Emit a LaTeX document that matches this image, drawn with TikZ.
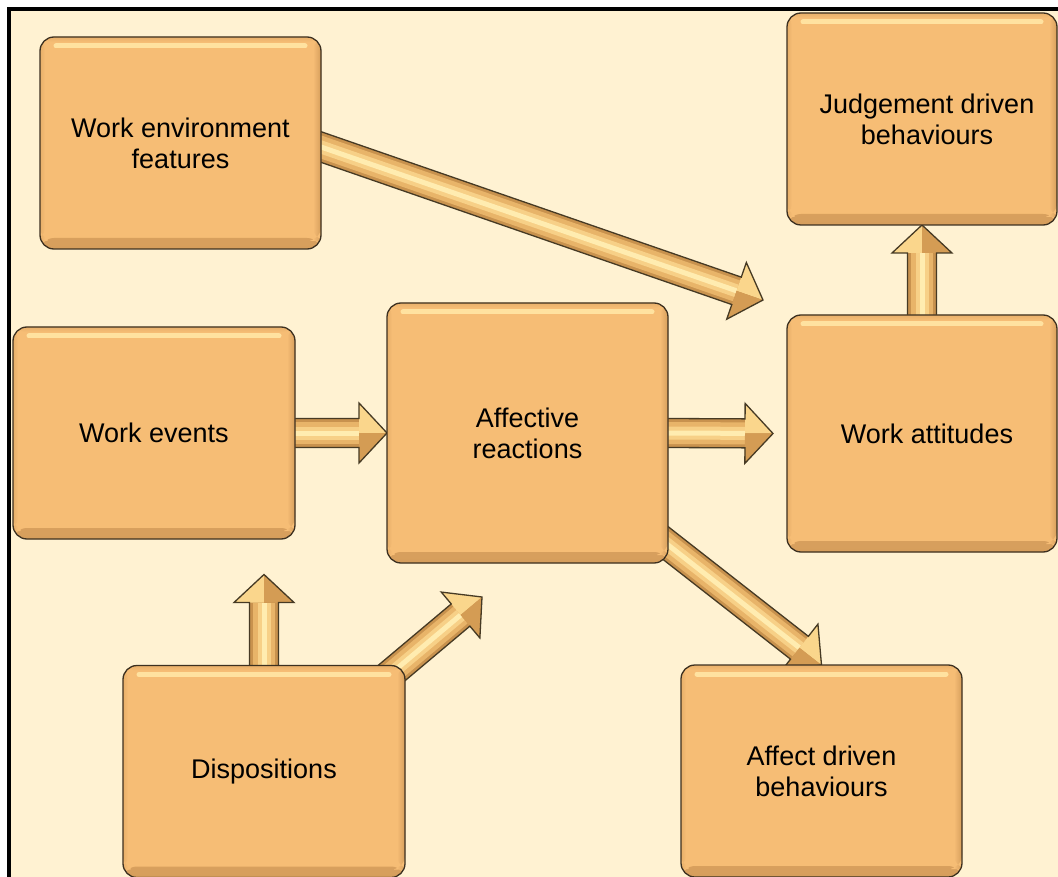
\documentclass[tikz,border=0pt]{standalone}
\usepackage{fontspec}
\setmainfont{Liberation Sans}
\usetikzlibrary{calc}
\definecolor{bgc}{RGB}{255,242,210}
\definecolor{boxfill}{RGB}{246,189,117}
\definecolor{boxline}{RGB}{60,48,32}
\definecolor{boxhi}{RGB}{255,226,160}
\definecolor{boxsh}{RGB}{214,158,92}
\definecolor{arrline}{RGB}{70,58,36}
\definecolor{arrbase}{RGB}{200,146,78}
\definecolor{arrmid}{RGB}{232,180,105}
\definecolor{arrlight}{RGB}{247,208,135}
\definecolor{arrhi}{RGB}{255,236,176}
\definecolor{headlight}{RGB}{250,214,140}
\definecolor{headdark}{RGB}{212,156,84}
\pgfdeclarelayer{back}
\pgfdeclarelayer{arrs}
\pgfsetlayers{back,arrs,main}
\newcommand\bxfont{\fontsize{27}{31}\selectfont}
\newcommand\blockarrow[2]{%
  \coordinate (baA) at ($(#1)!-20pt!(#2)$);
  \coordinate (baB) at (#2);
  \coordinate (baH) at ($(baB)!28pt!(baA)$);
  \coordinate (baAl) at ($(baA)!14.5pt!90:(baB)$);
  \coordinate (baAr) at ($(baA)!14.5pt!-90:(baB)$);
  \coordinate (baHl) at ($(baH)!14.5pt!90:(baB)$);
  \coordinate (baHr) at ($(baH)!14.5pt!-90:(baB)$);
  \coordinate (baWl) at ($(baH)!30pt!90:(baB)$);
  \coordinate (baWr) at ($(baH)!30pt!-90:(baB)$);
  \fill[arrbase] (baAl) -- (baHl) -- (baWl) -- (baB) -- (baWr) -- (baHr) -- (baAr) -- cycle;
  \draw[line width=22pt, arrmid] (baA) -- (baH);
  \draw[line width=13pt, arrlight] (baA) -- (baH);
  \draw[line width=5pt, arrhi] (baA) -- (baH);
  \fill[headlight] (baWl) -- (baB) -- (baH) -- cycle;
  \fill[headdark] (baWr) -- (baB) -- (baH) -- cycle;
  \draw[arrline, line width=1.3pt, line join=miter] (baAl) -- (baHl) -- (baWl) -- (baB) -- (baWr) -- (baHr) -- (baAr);
}
\tikzset{
  box/.style={draw=boxline, line width=1.3pt, fill=boxfill, rounded corners=14pt,
    inner sep=0pt, outer sep=0pt, align=center, font=\bxfont, text=black,
    path picture={
      \shade[top color=boxfill, bottom color=boxsh]
        ([yshift=11pt]path picture bounding box.south west) rectangle (path picture bounding box.south east);
      \shade[left color=boxfill, right color=boxsh]
        ([xshift=-8pt]path picture bounding box.north east) rectangle ([yshift=8pt]path picture bounding box.south east);
      \shade[left color=boxsh!45!boxfill, right color=boxfill]
        (path picture bounding box.north west) rectangle ([xshift=5pt,yshift=8pt]path picture bounding box.south west);
      \shade[top color=boxsh!40!boxfill, bottom color=boxfill]
        (path picture bounding box.north west) rectangle ([yshift=-5pt]path picture bounding box.north east);
      \draw[boxhi, line width=5pt, line cap=round]
        ([xshift=16pt,yshift=-9pt]path picture bounding box.north west) -- ([xshift=-16pt,yshift=-9pt]path picture bounding box.north east);
    }},
  boxlabel/.style={font=\bxfont, align=center, text=black, xshift=5pt}
}
\begin{document}
\begin{tikzpicture}[x=1pt,y=-1pt]
\useasboundingbox (0,0) rectangle (1058,877);
% boxes
\node[box, minimum width=281pt, minimum height=212pt] (wef) at (180.5,143) {Work environment\\features};
\node[box, minimum width=270pt, minimum height=212pt,
  label={[boxlabel]center:Judgement driven\\behaviours}] (jdg) at (922,119) {};
\node[box, minimum width=270pt, minimum height=237pt,
  label={[boxlabel]center:Work attitudes}] (wat) at (922,433.5) {};
\node[box, minimum width=282pt, minimum height=212pt] (wev) at (154,433) {Work events};
\node[box, minimum width=281pt, minimum height=260pt] (aff) at (527.5,433) {Affective\\reactions};
\node[box, minimum width=282pt, minimum height=212pt] (disp) at (264,771.5) {Dispositions};
\node[box, minimum width=281pt, minimum height=212pt] (adb) at (821.5,771) {Affect driven\\behaviours};
% connector end points
\coordinate (s1) at ($(wef.east)+(0,4)$);
\coordinate (t1) at (763,300);
\coordinate (t3) at ($(wat.west)+(-14,0)$);
\coordinate (s5) at (654,534);
\coordinate (t6) at ($(disp.north)+(0,-91)$);
\coordinate (s7) at (375,687);
\coordinate (t7) at (482,597);
\begin{pgfonlayer}{back}
  \fill[white] (0,0) rectangle (1058,877);
  \draw[line width=4pt, fill=bgc] (9,9) rectangle (1090,900);
\end{pgfonlayer}
\begin{pgfonlayer}{arrs}
  \blockarrow{s1}{t1}
  \blockarrow{wev.east}{aff.west}
  \blockarrow{aff.east}{t3}
  \blockarrow{wat.north}{jdg.south}
  \blockarrow{s5}{adb.north}
  \blockarrow{disp.north}{t6}
  \blockarrow{s7}{t7}
\end{pgfonlayer}
\end{tikzpicture}
\end{document}
